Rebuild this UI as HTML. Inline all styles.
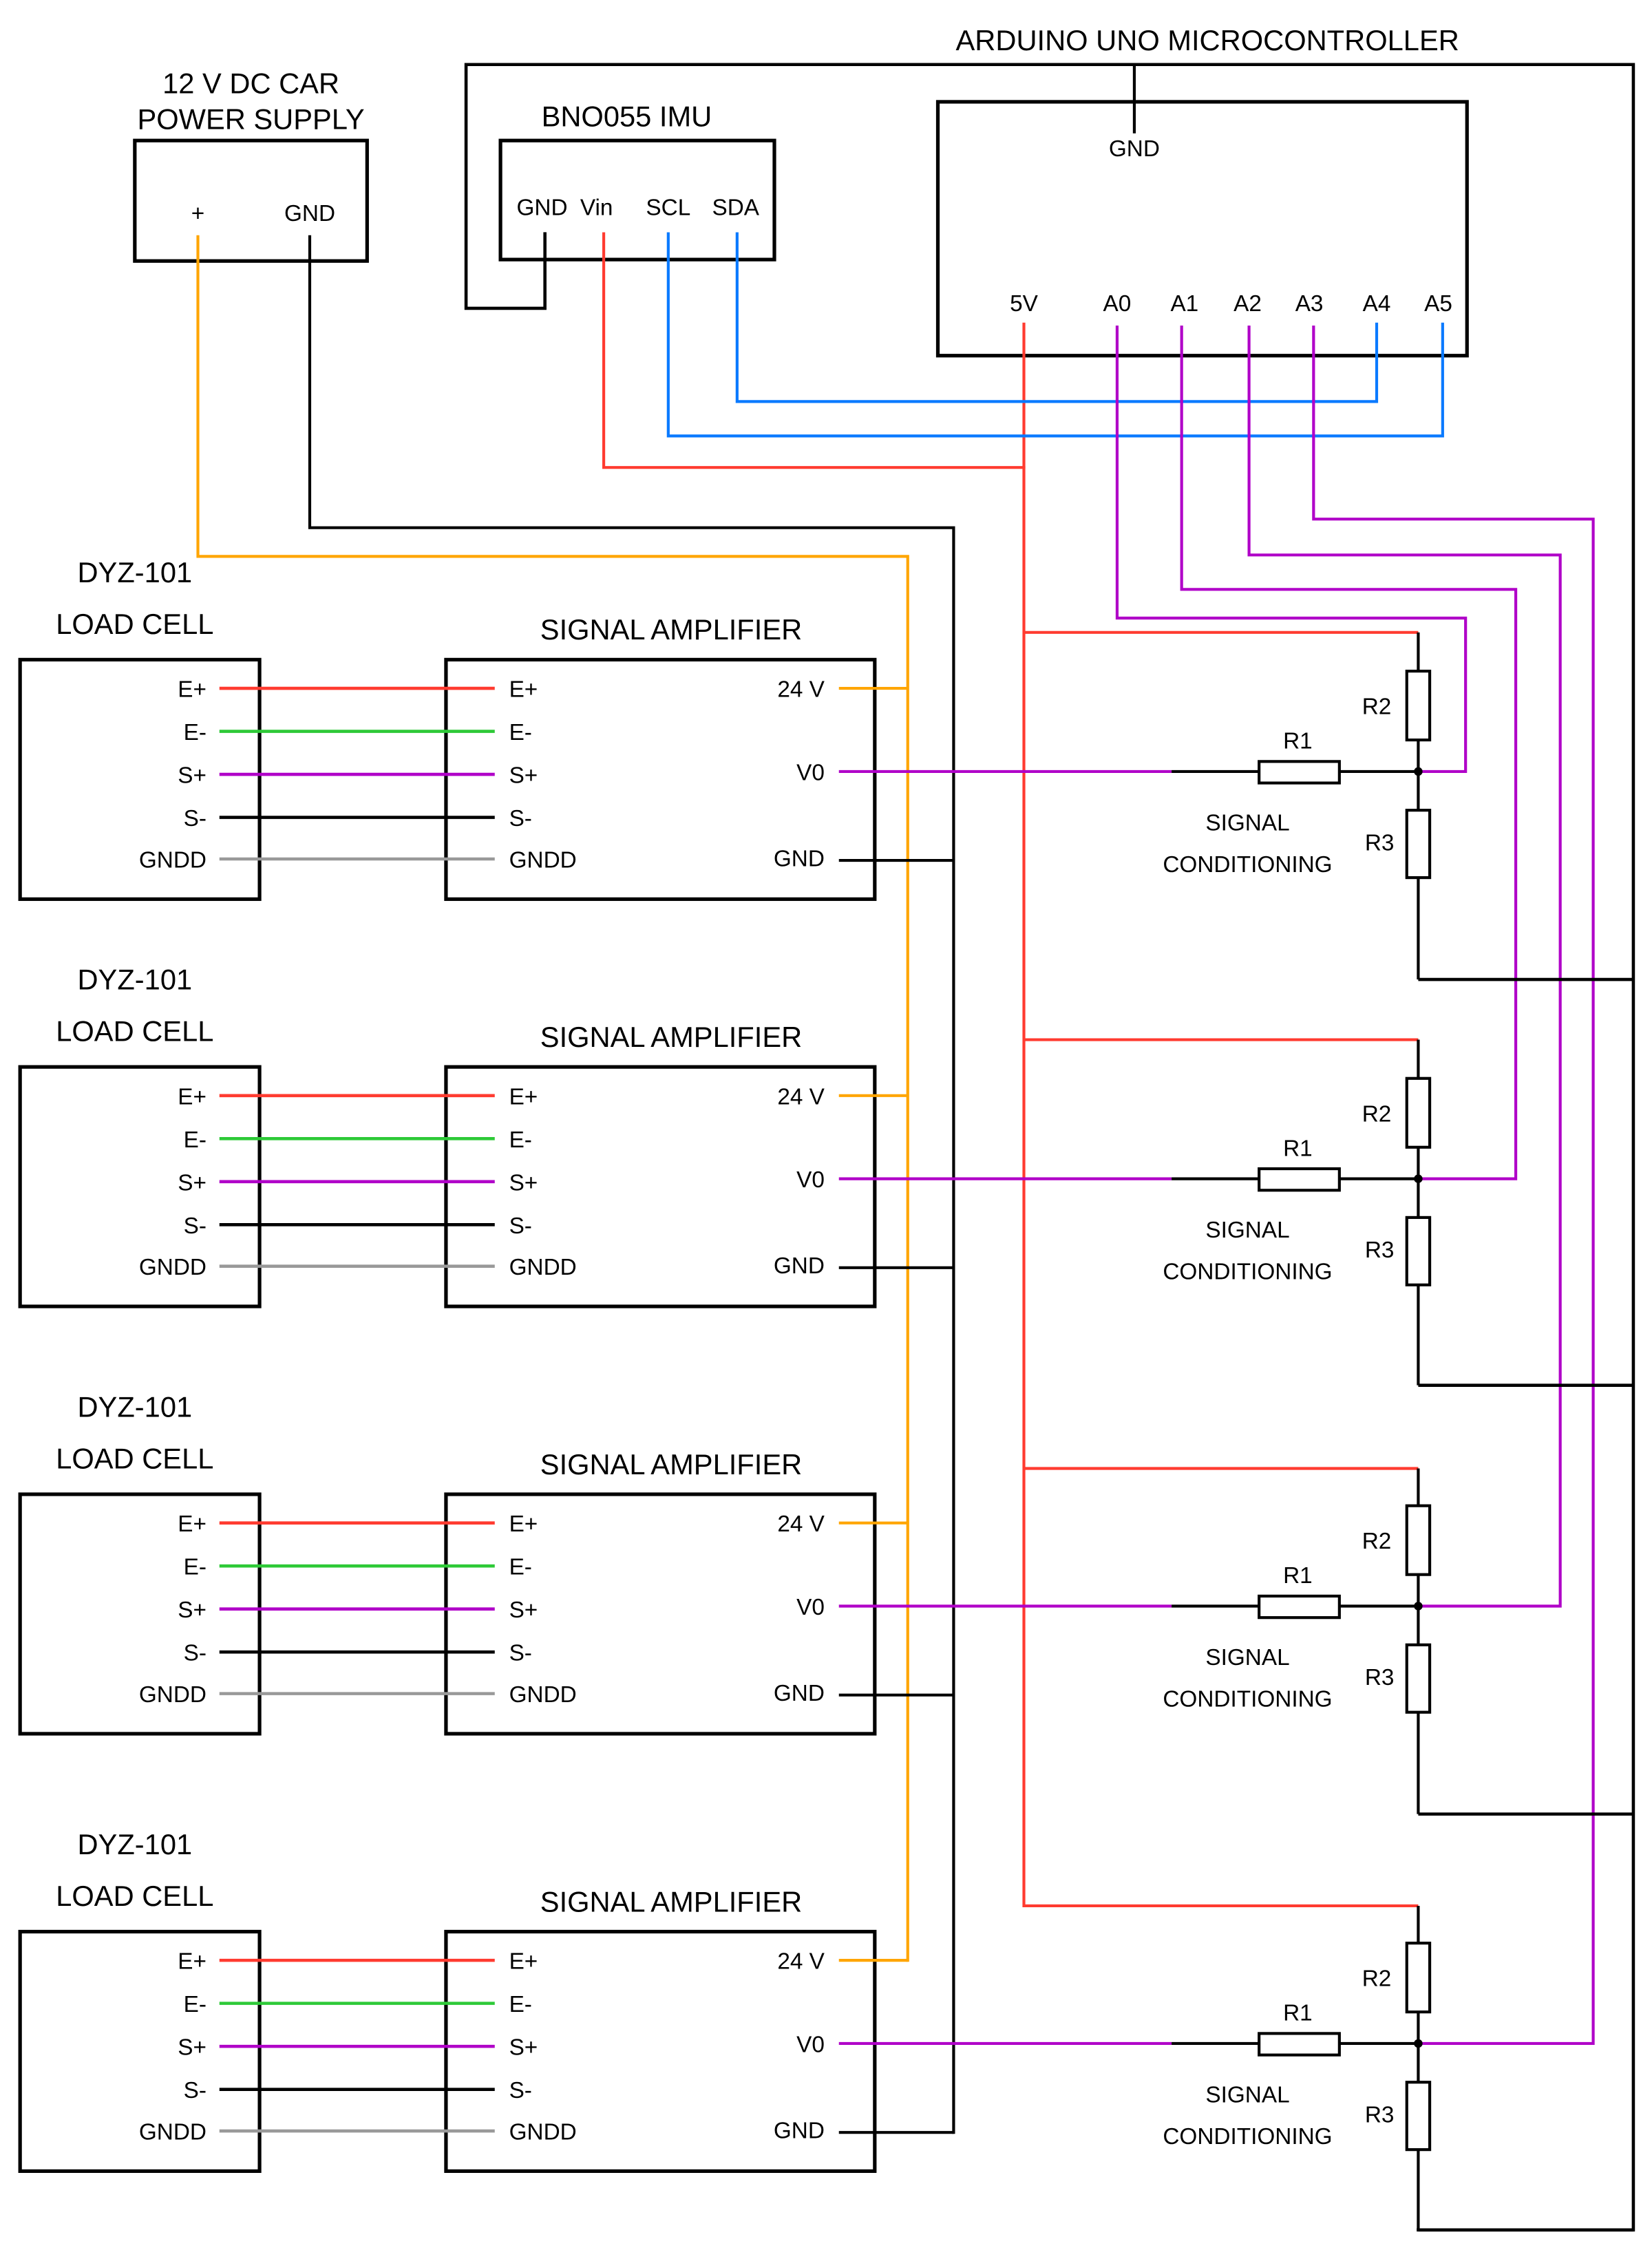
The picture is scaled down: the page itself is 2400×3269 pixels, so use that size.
<!DOCTYPE html>
<html><head><meta charset="utf-8"><style>
html,body{margin:0;padding:0;background:#fff;}
svg{display:block;}
text{font-family:"Liberation Sans",sans-serif;fill:#000;}
</style></head><body>
<svg width="2400" height="3269" viewBox="0 0 1152 1569" preserveAspectRatio="none" xmlns="http://www.w3.org/2000/svg">
<g fill="none" stroke-linejoin="miter" stroke-linecap="square">
<polyline points="380,163 380,215 325,215 325,45 1139,45 1139,1555 989,1555" stroke="#000" stroke-width="2.2"/>
<line x1="791" y1="45" x2="791" y2="92" stroke="#000" stroke-width="2"/>
<rect x="654" y="71" width="369" height="177" stroke="#000" stroke-width="2.5"/>
<rect x="94" y="98" width="162" height="84" stroke="#000" stroke-width="2.5"/>
<rect x="349" y="98" width="191" height="83" stroke="#000" stroke-width="2.5"/>
<polyline points="138,165 138,388 633,388 633,1367" stroke="#ffa500" stroke-width="2"/>
<polyline points="216,165 216,368 665,368 665,1487" stroke="#000" stroke-width="2"/>
<polyline points="421,163 421,326 714,326" stroke="#ff3b30" stroke-width="2"/>
<line x1="714" y1="226" x2="714" y2="1329" stroke="#ff3b30" stroke-width="2"/>
<polyline points="514,163 514,280 960,280 960,226" stroke="#0a7aff" stroke-width="2"/>
<polyline points="466,163 466,304 1006,304 1006,226" stroke="#0a7aff" stroke-width="2"/>
<polyline points="779,228 779,431 1022,431 1022,538 989,538" stroke="#b000c8" stroke-width="2"/>
<polyline points="824,228 824,411 1057,411 1057,822 989,822" stroke="#b000c8" stroke-width="2"/>
<polyline points="871,228 871,387 1088,387 1088,1120 989,1120" stroke="#b000c8" stroke-width="2"/>
<polyline points="916,228 916,362 1111,362 1111,1425 989,1425" stroke="#b000c8" stroke-width="2"/>
</g>
<g id="rows"></g>
<text x="842" y="35" font-size="20" text-anchor="middle">ARDUINO UNO MICROCONTROLLER</text>
<text x="175" y="65" font-size="20" text-anchor="middle">12 V DC CAR</text>
<text x="175" y="90" font-size="20" text-anchor="middle">POWER SUPPLY</text>
<text x="437" y="88" font-size="20" text-anchor="middle">BNO055 IMU</text>
<g font-size="16" text-anchor="middle">
<text x="138" y="154">+</text><text x="216" y="154">GND</text>
<text x="378" y="150">GND</text><text x="416" y="150">Vin</text><text x="466" y="150">SCL</text><text x="513" y="150">SDA</text>
<text x="791" y="109">GND</text>
<text x="714" y="217">5V</text><text x="779" y="217">A0</text><text x="826" y="217">A1</text><text x="870" y="217">A2</text><text x="913" y="217">A3</text><text x="960" y="217">A4</text><text x="1003" y="217">A5</text>
</g>
<script>
(function(){
var ns="http://www.w3.org/2000/svg",g=document.getElementById('rows');
function el(t,a,txt){var e=document.createElementNS(ns,t);for(var k in a)e.setAttribute(k,a[k]);if(txt!=null)e.textContent=txt;g.appendChild(e);return e;}
function ln(x1,y1,x2,y2,c,w){el('line',{x1:x1,y1:y1,x2:x2,y2:y2,stroke:c,'stroke-width':w||2});}
function tx(x,y,s,fs,anc){el('text',{x:x,y:y,'font-size':fs,'text-anchor':anc||'start'},s);}
var offs=[0,284,582,887];
var gnds=[683,966,1265,1555];
for(var i=0;i<4;i++){
 var o=offs[i];
 tx(94,406+o,'DYZ-101',20,'middle');tx(94,442+o,'LOAD CELL',20,'middle');
 tx(468,446+o,'SIGNAL AMPLIFIER',20,'middle');
 el('rect',{x:14,y:460+o,width:167,height:167,fill:'none',stroke:'#000','stroke-width':2.5});
 el('rect',{x:311,y:460+o,width:299,height:167,fill:'none',stroke:'#000','stroke-width':2.5});
 var pins=[['E+',480,'#ff3b30'],['E-',510,'#2dc937'],['S+',540,'#b000c8'],['S-',570,'#000'],['GNDD',599,'#999']];
 for(var p=0;p<5;p++){var y=pins[p][1]+o;
  ln(153,y,345,y,pins[p][2],2.2);
  tx(144,y+6,pins[p][0],16,'end');tx(355,y+6,pins[p][0],16,'start');}
 tx(575,486+o,'24 V',16,'end');tx(575,544+o,'V0',16,'end');tx(575,604+o,'GND',16,'end');
 ln(585,480+o,633,480+o,'#ffa500',2);
 ln(585,600+o,665,600+o,'#000',2);
 var vy=[538,822,1120,1425][i];
 ln(585,vy,817,vy,'#b000c8',2);
 ln(817,vy,989,vy,'#000',2);
 var ry=[441,725,1024,1329][i];
 ln(714,ry,989,ry,'#ff3b30',2);
 ln(989,ry,989,gnds[i],'#000',2);
 ln(989,gnds[i],1139,gnds[i],'#000',2.2);
 el('rect',{x:981,y:vy-70,width:16,height:48,fill:'#fff',stroke:'#000','stroke-width':2});
 el('rect',{x:981,y:vy+27,width:16,height:47,fill:'#fff',stroke:'#000','stroke-width':2});
 el('rect',{x:878,y:vy-7,width:56,height:15,fill:'#fff',stroke:'#000','stroke-width':2});
 el('circle',{cx:989,cy:vy,r:3,fill:'#000'});
 tx(960,vy-40,'R2',16,'middle');tx(905,vy-16,'R1',16,'middle');tx(962,vy+55,'R3',16,'middle');
 tx(870,vy+41,'SIGNAL',16,'middle');tx(870,vy+70,'CONDITIONING',16,'middle');
}
})();
</script>
</svg>
</body></html>
